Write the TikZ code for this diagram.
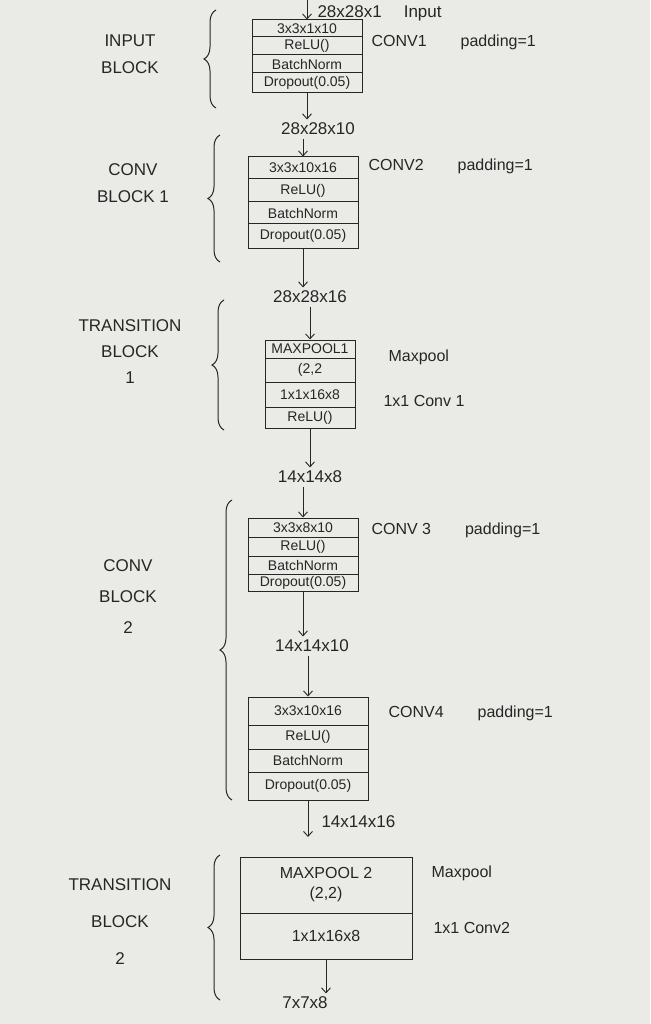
\documentclass[tikz,border=0pt]{standalone}
\usepackage{fontspec}
\setmainfont{Liberation Sans}
\usepackage{tikz}
\usetikzlibrary{positioning,arrows.meta,decorations.pathreplacing}
\definecolor{paper}{HTML}{EAEAE7}
\definecolor{ink}{HTML}{262626}
\tikzset{
  layer/.style={draw=ink, line width=1pt, minimum width=#1, inner sep=0pt, text=ink, font=\fontsize{14}{16}\selectfont},
  layer/.default=110pt,
  dim/.style={text=ink, font=\fontsize{17}{19}\selectfont},
  side/.style={text=ink, font=\fontsize{16}{18}\selectfont, anchor=west},
  blk/.style={text=ink, font=\fontsize{17}{27}\selectfont, align=center},
  arr/.style={draw=ink, line width=0.9pt, -{Straight Barb[length=5pt,width=9pt]}},
  brc/.style={draw=ink, line width=1pt, decorate, decoration={brace, amplitude=12pt}}
}

\begin{document}
\begin{tikzpicture}[x=1pt,y=-1pt]
  \fill[paper] (0,0) rectangle (650,1024);
  \useasboundingbox (0,0) rectangle (650,1024);

  % input block
  \coordinate (inp) at (307,0);
  \node[dim, anchor=west] (d0) at (314,13) {28x28x1\hspace{22pt}Input};
  \node[layer, minimum height=17pt] (in1) at (307,28.5) {3x3x1x10};
  \node[layer, minimum height=18pt, below=-1pt of in1] (in2) {ReLU()};
  \node[layer, minimum height=18pt, below=-1pt of in2] (in3) {BatchNorm};
  \node[layer, minimum height=20pt, below=-1pt of in3] (in4) {Dropout(0.05)};
  \node[side] (s1) at (368,42) {CONV1\hspace{34pt}padding=1};
  \node[blk] (b0) at (130,54) {INPUT\\BLOCK};
  \draw[brc] (216,108) -- (216,10);
  \draw[arr] (inp) -- (in1);

  % conv block 1
  \node[dim] (d1) at (318,129) {28x28x10};
  \node[layer, minimum height=22pt] (c1a) at (303,168) {3x3x10x16};
  \node[layer, minimum height=23pt, below=-1pt of c1a] (c1b) {ReLU()};
  \node[layer, minimum height=22pt, below=-1pt of c1b] (c1c) {BatchNorm};
  \node[layer, minimum height=24pt, below=-1pt of c1c] (c1d) {Dropout(0.05)};
  \node[side] (s2) at (365,166) {CONV2\hspace{34pt}padding=1};
  \node[blk] (b1) at (133,183) {CONV\\BLOCK 1};
  \draw[brc] (220,262) -- (220,135);
  \draw[arr] (in4.south) -- (in4.south |- d1.north);
  \draw[arr] (c1a.north |- d1.south) -- (c1a.north);

  % transition block 1
  \node[dim] (d2) at (310,297) {28x28x16};
  \node[layer=90pt, minimum height=18pt] (t1a) at (310,349) {MAXPOOL1};
  \node[layer=90pt, minimum height=24pt, below=-1pt of t1a] (t1b) {(2,2};
  \node[layer=90pt, minimum height=25pt, below=-1pt of t1b] (t1c) {1x1x16x8};
  \node[layer=90pt, minimum height=21pt, below=-1pt of t1c] (t1d) {ReLU()};
  \node[side] (s3) at (385,357) {Maxpool};
  \node[side] (s4) at (380,401) {1x1 Conv 1};
  \node[blk, font=\fontsize{17}{26}\selectfont] (b2) at (130,352) {TRANSITION\\BLOCK\\1};
  \draw[brc] (224,430) -- (224,300);
  \draw[arr] (c1d.south) -- (c1d.south |- d2.north);
  \draw[arr] (t1a.north |- d2.south) -- (t1a.north);

  % conv block 2
  \node[dim] (d3) at (310,477) {14x14x8};
  \node[layer, minimum height=19pt] (c3a) at (303,527.5) {3x3x8x10};
  \node[layer, minimum height=19pt, below=-1pt of c3a] (c3b) {ReLU()};
  \node[layer, minimum height=18pt, below=-1pt of c3b] (c3c) {BatchNorm};
  \node[layer, minimum height=17pt, below=-1pt of c3c] (c3d) {Dropout(0.05)};
  \node[side] (s5) at (368,530) {CONV 3\hspace{34pt}padding=1};
  \node[dim] (d4) at (312,646) {14x14x10};
  \node[layer=120pt, minimum height=28pt] (c4a) at (308,711) {3x3x10x16};
  \node[layer=120pt, minimum height=24pt, below=-1pt of c4a] (c4b) {ReLU()};
  \node[layer=120pt, minimum height=23pt, below=-1pt of c4b] (c4c) {BatchNorm};
  \node[layer=120pt, minimum height=28pt, below=-1pt of c4c] (c4d) {Dropout(0.05)};
  \node[side] (s6) at (385,713) {CONV4\hspace{34pt}padding=1};
  \node[blk, font=\fontsize{17}{31}\selectfont] (b3) at (128,597) {CONV\\BLOCK\\2};
  \draw[brc] (232,800) -- (232,500);
  \draw[arr] (t1d.south) -- (t1d.south |- d3.north);
  \draw[arr] (c3a.north |- d3.south) -- (c3a.north);
  \draw[arr] (c3d.south) -- (c3d.south |- d4.north);
  \draw[arr] (c4a.north |- d4.south) -- (c4a.north);

  % transition block 2
  \coordinate (c4out) at (308,837);
  \node[dim, anchor=west] (d5) at (318,822) {14x14x16};
  \node[layer=172pt, minimum height=56pt, align=center, font=\fontsize{16}{20}\selectfont] (t2a) at (326,885) {MAXPOOL 2\\(2,2)};
  \node[layer=172pt, minimum height=46pt, below=-1pt of t2a, font=\fontsize{16}{18}\selectfont] (t2b) {1x1x16x8};
  \node[side] (s7) at (428,873) {Maxpool};
  \node[side] (s8) at (430,928) {1x1 Conv2};
  \node[blk, font=\fontsize{17}{37}\selectfont] (b4) at (120,922) {TRANSITION\\BLOCK\\2};
  \node[dim] (d6) at (305,1003) {7x7x8};
  \draw[brc] (220,1000) -- (220,855);
  \draw[arr] (c4d.south) -- (c4out);
  \draw[arr] (t2b.south) -- (t2b.south |- d6.north);
\end{tikzpicture}
\end{document}
